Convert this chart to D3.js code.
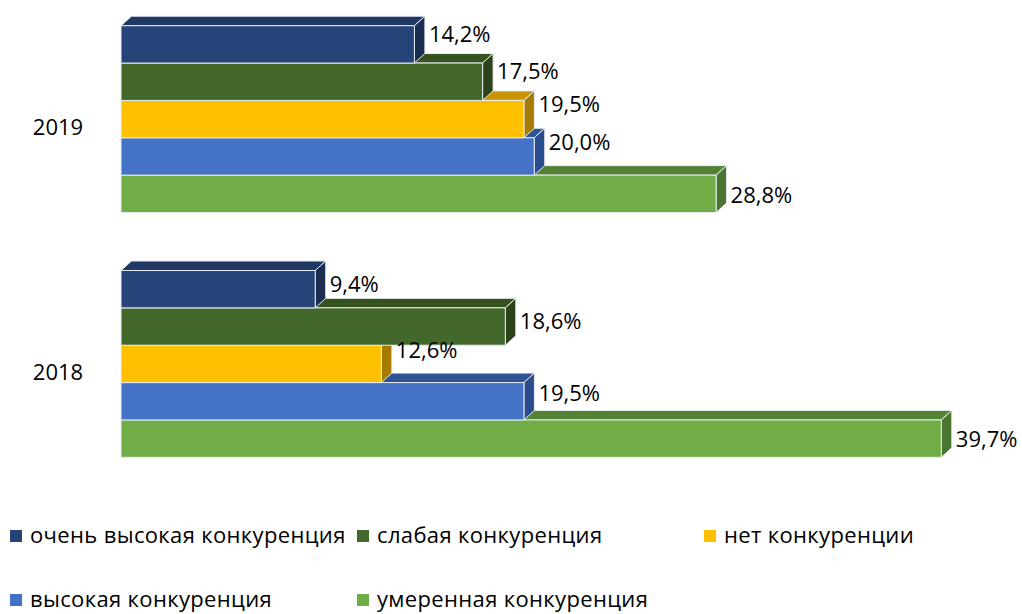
<!DOCTYPE html>
<html>
<head>
<meta charset="utf-8">
<script src="https://cdn.jsdelivr.net/npm/d3@7/dist/d3.min.js"></script>
<style>
  html, body { margin: 0; padding: 0; background: #fff; }
  svg { display: block; }
  text { font-family: "Open Sans", "DejaVu Sans", sans-serif; fill: #000; }
</style>
</head>
<body>
<svg id="chart" width="1022" height="614"></svg>
<script>
// ---- data ----
const years = ["2019", "2018"];
const seriesNames = [
  "очень высокая конкуренция",
  "слабая конкуренция",
  "нет конкуренции",
  "высокая конкуренция",
  "умеренная конкуренция"
];
const values2019 = [14.2, 17.5, 19.5, 20.0, 28.8];
const values2018 = [9.4, 18.6, 12.6, 19.5, 39.7];
const xTicks = [0, 10, 20, 30, 40];

// ---- styles / layout ----
const frontColors = ["#264478", "#43682b", "#ffc000", "#4472c4", "#70ad47"];
const topColors   = ["#1f3864", "#36531f", "#c89600", "#2f5597", "#548235"];
const sideColors  = ["#1a2d50", "#2b421b", "#a67c00", "#2b4c8c", "#4a7530"];
const labelShift = { "2019": [-10, -11, -15, -14, 1], "2018": [-5, -6, -14, -8, 0] };
const depthX = 10.5, depthY = -9.5;

const valuesByYear = { "2019": values2019, "2018": values2018 };

const svg = d3.select("#chart");
const x = d3.scaleLinear().domain([xTicks[0], xTicks[xTicks.length - 1]]).range([121, 947.5]);
const y = d3.scaleBand().domain(years).range([0, 483]).paddingInner(0.237).paddingOuter(0.105);
const yi = d3.scaleBand().domain(seriesNames).range([0, y.bandwidth()]);

const fmt = v => d3.format(".1f")(v).replace(".", ",") + "%";

const bars = svg.append("g");
years.forEach(yr => {
  const vals = valuesByYear[yr];
  // draw bottom bars first so upper bars cover their top faces
  for (let i = seriesNames.length - 1; i >= 0; i--) {
    const x0 = x(0), x1 = x(vals[i]);
    const y0 = y(yr) + yi(seriesNames[i]);
    const h = yi.bandwidth();
    const g = bars.append("g").attr("stroke", "#e8ecf2").attr("stroke-width", 1).attr("stroke-linejoin", "round");
    g.append("path")
      .attr("d", `M${x0},${y0} L${x0 + depthX},${y0 + depthY} L${x1 + depthX},${y0 + depthY} L${x1},${y0} Z`)
      .attr("fill", topColors[i]);
    g.append("path")
      .attr("d", `M${x1},${y0} L${x1 + depthX},${y0 + depthY} L${x1 + depthX},${y0 + h + depthY} L${x1},${y0 + h} Z`)
      .attr("fill", sideColors[i]);
    g.append("rect")
      .attr("x", x0).attr("y", y0).attr("width", x1 - x0).attr("height", h)
      .attr("fill", frontColors[i]);
  }
});

// value labels
years.forEach(yr => {
  const vals = valuesByYear[yr];
  seriesNames.forEach((s, i) => {
    const cy = y(yr) + yi(s) + yi.bandwidth() / 2 + labelShift[yr][i];
    svg.append("text")
      .attr("x", x(vals[i]) + depthX + 4)
      .attr("y", cy + 8)
      .attr("font-size", 22)
      .text(fmt(vals[i]));
  });
});

// year labels
years.forEach(yr => {
  svg.append("text")
    .attr("x", 58)
    .attr("y", y(yr) + y.bandwidth() / 2 + 16)
    .attr("text-anchor", "middle")
    .attr("font-size", 22)
    .text(yr);
});

// legend
const legendPos = [[10, 530], [357, 530], [704, 530], [10, 594], [357, 594]];
const legend = svg.append("g");
seriesNames.forEach((s, i) => {
  const [lx, ly] = legendPos[i];
  legend.append("rect").attr("x", lx).attr("y", ly).attr("width", 12).attr("height", 12).attr("fill", frontColors[i]);
  legend.append("text").attr("x", lx + 20).attr("y", ly + 13)
    .attr("font-size", 22).attr("letter-spacing", 0.35).text(s);
});
</script>
</body>
</html>
